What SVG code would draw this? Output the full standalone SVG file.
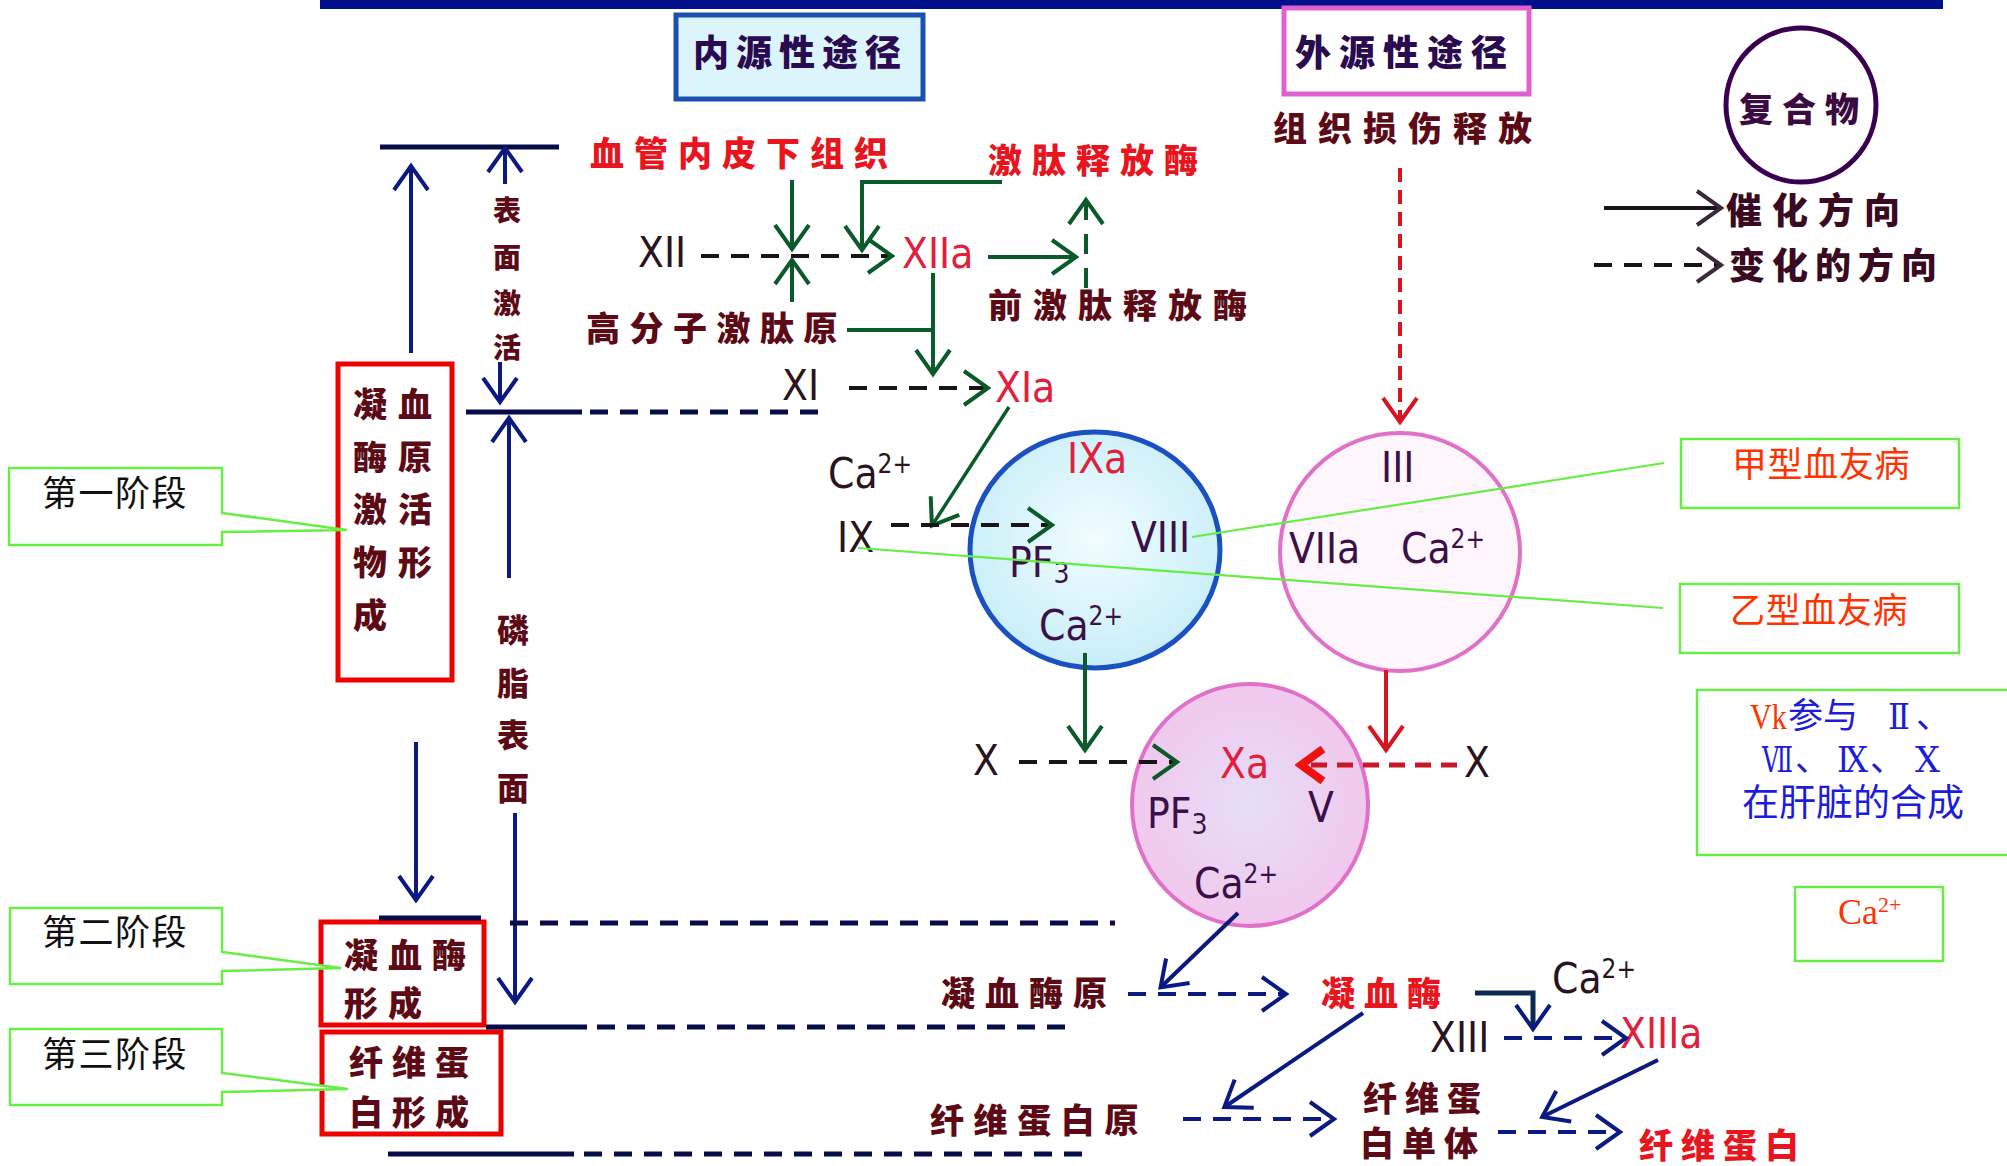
<svg xmlns="http://www.w3.org/2000/svg" width="2007" height="1166" viewBox="0 0 2007 1166">
<style>
.cj{font-family:"Noto Sans CJK SC",sans-serif;font-weight:900;font-size:34px}
.cr{font-family:"Noto Sans CJK SC",sans-serif;font-weight:400;font-size:35px}
.lat{font-family:"DejaVu Sans Condensed","Liberation Sans Narrow","DejaVu Sans",sans-serif;font-size:42px}
.rom{font-family:"Liberation Serif","DejaVu Serif","Noto Sans CJK SC",serif;font-size:36px}
.mar{fill:#5c0a16}
.red{fill:#e8141e}
.dk{fill:#2a1420}
.pur{fill:#3a1048}
.rl{fill:#e0203c}
.blk{fill:#111}
.org{fill:#ff3300}
.blu{fill:#1c1cdc}
.cb{fill:#fff;stroke:#66ee44;stroke-width:2.5}
.rb{fill:none;stroke:#ee0000;stroke-width:5}
.nv{fill:none;stroke:#0a1a80;stroke-width:4}
.nk{fill:none;stroke:#060c48;stroke-width:5}
.gr{fill:none;stroke:#0a5a2a;stroke-width:4}
.rd{fill:none;stroke:#d81420;stroke-width:4}
.kd{fill:none;stroke:#1a1418;stroke-width:4}
.d{stroke-dasharray:18 12}
.gl{fill:none;stroke:#66ee44;stroke-width:2.2}
</style>
<defs>
<marker id="aN" viewBox="-4 -22 32 44" refX="22" refY="0" markerWidth="32" markerHeight="44" markerUnits="userSpaceOnUse" orient="auto"><path d="M0,-17 L24,0 L0,17" fill="none" stroke="#0a1a80" stroke-width="4"/></marker>
<marker id="aG" viewBox="-4 -22 32 44" refX="22" refY="0" markerWidth="32" markerHeight="44" markerUnits="userSpaceOnUse" orient="auto"><path d="M0,-17 L24,0 L0,17" fill="none" stroke="#0a5a2a" stroke-width="4"/></marker>
<marker id="aR" viewBox="-4 -22 32 44" refX="22" refY="0" markerWidth="32" markerHeight="44" markerUnits="userSpaceOnUse" orient="auto"><path d="M0,-17 L24,0 L0,17" fill="none" stroke="#d81420" stroke-width="4"/></marker>
<marker id="aRb" viewBox="-4 -22 32 44" refX="20" refY="0" markerWidth="32" markerHeight="44" markerUnits="userSpaceOnUse" orient="auto"><path d="M0,-16 L22,0 L0,16" fill="none" stroke="#f01010" stroke-width="8"/></marker>
<marker id="aK" viewBox="-4 -22 32 44" refX="22" refY="0" markerWidth="32" markerHeight="44" markerUnits="userSpaceOnUse" orient="auto"><path d="M0,-17 L24,0 L0,17" fill="none" stroke="#3a2a3a" stroke-width="4"/></marker>
<radialGradient id="gB" cx="50%" cy="45%" r="55%"><stop offset="0" stop-color="#f2fdff"/><stop offset="1" stop-color="#c8eef8"/></radialGradient>
<radialGradient id="gP" cx="50%" cy="50%" r="55%"><stop offset="0" stop-color="#e6def8"/><stop offset="1" stop-color="#f2c6ec"/></radialGradient>
</defs>
<rect width="2007" height="1166" fill="#fff"/>
<rect x="320" y="0" width="1623" height="9" fill="#00108a"/>

<g id="intrinsic-title">
<rect x="676" y="15" width="247" height="84" fill="#dcf5fb" stroke="#1a50b0" stroke-width="5"/>
<text class="cj" x="693" y="66" style="font-size:36px;letter-spacing:7px;fill:#2a0a50">内源性途径</text>
</g>
<g id="extrinsic-title">
<rect x="1284" y="8" width="245" height="86" fill="#fff" stroke="#e060d0" stroke-width="5"/>
<text class="cj" x="1295" y="66" style="font-size:36px;letter-spacing:8px;fill:#2a0a50">外源性途径</text>
</g>
<g id="tissue-damage"><text class="cj mar" x="1273" y="141" style="letter-spacing:11px">组织损伤释放</text></g>
<g id="legend-complex">
<ellipse cx="1801" cy="105" rx="75" ry="77" fill="#fff" stroke="#3a0050" stroke-width="5"/>
<text class="cj" x="1739" y="122" style="letter-spacing:9px;fill:#3a0a40">复合物</text>
</g>
<g id="legend-catalysis"><text class="cj" x="1726" y="224" style="font-size:36px;letter-spacing:10px;fill:#3a0a20">催化方向</text></g>
<g id="legend-change"><text class="cj" x="1729" y="279" style="font-size:36px;letter-spacing:7px;fill:#3a0a20">变化的方向</text></g>

<g id="subendothelium"><text class="cj red" x="590" y="166" style="letter-spacing:10px">血管内皮下组织</text></g>
<g id="kallikrein"><text class="cj red" x="988" y="173" style="letter-spacing:10px">激肽释放酶</text></g>
<g id="prekallikrein"><text class="cj mar" x="988" y="318" style="letter-spacing:11px">前激肽释放酶</text></g>
<g id="hmwk"><text class="cj mar" x="586" y="341" style="letter-spacing:9.5px">高分子激肽原</text></g>

<g id="surface-activation" class="cj mar" style="font-size:28px" text-anchor="middle">
<text x="507" y="221">表</text><text x="507" y="268">面</text><text x="507" y="314">激</text><text x="507" y="358">活</text>
</g>
<g id="phospholipid-surface" class="cj mar" style="font-size:32px" text-anchor="middle">
<text x="513" y="642">磷</text><text x="513" y="695">脂</text><text x="513" y="747">表</text><text x="513" y="800">面</text>
</g>

<g id="stage1-box">
<rect class="rb" x="338" y="364" width="114" height="316"/>
<g class="cj mar" text-anchor="middle">
<text x="370" y="417">凝</text><text x="415" y="417">血</text>
<text x="370" y="470">酶</text><text x="415" y="470">原</text>
<text x="370" y="522">激</text><text x="415" y="522">活</text>
<text x="370" y="575">物</text><text x="415" y="575">形</text>
<text x="370" y="628">成</text>
</g>
</g>
<g id="stage2-box">
<rect class="rb" x="321" y="922" width="163" height="103"/>
<text class="cj mar" x="344" y="968" style="letter-spacing:10px">凝血酶</text>
<text class="cj mar" x="344" y="1016" style="letter-spacing:10px">形成</text>
</g>
<g id="stage3-box">
<rect class="rb" x="322" y="1032" width="179" height="102"/>
<text class="cj mar" x="349" y="1075" style="letter-spacing:9px">纤维蛋</text>
<text class="cj mar" x="349" y="1125" style="letter-spacing:9px">白形成</text>
</g>

<g id="callout-stage1">
<polygon class="cb" points="9,468 222,468 222,513 347,530 222,532 222,545 9,545"/>
<text class="cr blk" x="42" y="506" style="letter-spacing:1.5px">第一阶段</text>
</g>
<g id="callout-stage2">
<polygon class="cb" points="10,908 222,908 222,952 341,968 222,971 222,984 10,984"/>
<text class="cr blk" x="42" y="945" style="letter-spacing:1.5px">第二阶段</text>
</g>
<g id="callout-stage3">
<polygon class="cb" points="10,1029 222,1029 222,1073 348,1089 222,1092 222,1105 10,1105"/>
<text class="cr blk" x="42" y="1067" style="letter-spacing:1.5px">第三阶段</text>
</g>

<g id="XII"><text class="lat dk" x="638" y="267">XII</text></g>
<g id="XIIa"><text class="lat rl" x="902" y="268">XIIa</text></g>
<g id="XI"><text class="lat dk" x="782" y="400">XI</text></g>
<g id="XIa"><text class="lat rl" x="995" y="402">XIa</text></g>
<g id="Ca-IX"><text class="lat dk" x="828" y="488">Ca<tspan font-size="26" dy="-15">2+</tspan></text></g>
<g id="IX"><text class="lat dk" x="837" y="552">IX</text></g>

<g id="complex-IXa">
<ellipse cx="1095" cy="550" rx="125" ry="118" fill="url(#gB)" stroke="#1a50c0" stroke-width="5"/>
<text class="lat rl" x="1067" y="473">IXa</text>
<text class="lat pur" x="1131" y="552">VIII</text>
<text class="lat pur" x="1009" y="577">PF<tspan font-size="28" dy="6">3</tspan></text>
<text class="lat pur" x="1039" y="640">Ca<tspan font-size="26" dy="-15">2+</tspan></text>
</g>
<g id="complex-VIIa">
<ellipse cx="1400" cy="552" rx="120" ry="119" fill="#fff5fc" stroke="#e070c8" stroke-width="4"/>
<text class="lat pur" x="1381" y="482">III</text>
<text class="lat pur" x="1289" y="563">VIIa</text>
<text class="lat pur" x="1401" y="563">Ca<tspan font-size="26" dy="-15">2+</tspan></text>
</g>
<g id="X-left"><text class="lat dk" x="973" y="775">X</text></g>
<g id="X-right"><text class="lat dk" x="1464" y="777">X</text></g>
<g id="complex-Xa">
<ellipse cx="1250" cy="805" rx="118" ry="121" fill="url(#gP)" stroke="#e070c8" stroke-width="4"/>
<text class="lat rl" x="1220" y="778">Xa</text>
<text class="lat pur" x="1308" y="822">V</text>
<text class="lat pur" x="1147" y="828">PF<tspan font-size="28" dy="6">3</tspan></text>
<text class="lat pur" x="1194" y="898">Ca<tspan font-size="26" dy="-15">2+</tspan></text>
</g>

<g id="prothrombin"><text class="cj mar" x="941" y="1006" style="letter-spacing:10px">凝血酶原</text></g>
<g id="thrombin"><text class="cj red" x="1321" y="1006" style="letter-spacing:9px">凝血酶</text></g>
<g id="Ca-XIII"><text class="lat dk" x="1552" y="993">Ca<tspan font-size="26" dy="-15">2+</tspan></text></g>
<g id="XIII"><text class="lat dk" x="1430" y="1052">XIII</text></g>
<g id="XIIIa"><text class="lat rl" x="1620" y="1048">XIIIa</text></g>
<g id="fibrinogen"><text class="cj mar" x="930" y="1133" style="letter-spacing:9.6px">纤维蛋白原</text></g>
<g id="fibrin-monomer">
<text class="cj mar" x="1363" y="1111" style="letter-spacing:8px">纤维蛋</text>
<text class="cj mar" x="1360" y="1156" style="letter-spacing:8px">白单体</text>
</g>
<g id="fibrin"><text class="cj red" x="1639" y="1158" style="letter-spacing:8px">纤维蛋白</text></g>

<g id="callout-hemophilia-a">
<rect class="cb" x="1681" y="439" width="278" height="69"/>
<text class="cr org" x="1732" y="477" style="letter-spacing:0.6px">甲型血友病</text>
</g>
<g id="callout-hemophilia-b">
<rect class="cb" x="1680" y="584" width="279" height="69"/>
<text class="cr org" x="1730" y="623" style="letter-spacing:0.6px">乙型血友病</text>
</g>
<g id="callout-vk">
<rect class="cb" x="1697" y="690" width="330" height="165"/>
<text class="rom org" x="1750" y="729" textLength="37" lengthAdjust="spacingAndGlyphs">Vk</text>
<text class="cr blu" x="1788" y="728" style="font-size:35px">参与</text>
<text class="rom blu" x="1888" y="729" textLength="22" lengthAdjust="spacingAndGlyphs">Ⅱ</text>
<text class="cr blu" x="1916" y="728" style="font-size:35px">、</text>
<text class="rom blu" x="1762" y="772" textLength="31" lengthAdjust="spacingAndGlyphs">Ⅶ</text>
<text class="cr blu" x="1795" y="771" style="font-size:35px">、</text>
<text class="rom blu" x="1837" y="772" textLength="31" lengthAdjust="spacingAndGlyphs">Ⅸ</text>
<text class="cr blu" x="1870" y="771" style="font-size:35px">、</text>
<text class="rom blu" x="1915" y="772" textLength="25" lengthAdjust="spacingAndGlyphs">Ⅹ</text>
<text class="cr blu" x="1742" y="816" style="font-size:37px">在肝脏的合成</text>
</g>
<g id="callout-ca">
<rect class="cb" x="1795" y="887" width="148" height="74"/>
<text class="org" x="1838" y="924" font-family="'Liberation Serif',serif" font-size="36">Ca<tspan font-size="22" dy="-12">2+</tspan></text>
</g>

<g id="connectors">
<line class="kd" x1="1604" y1="208" x2="1719" y2="208" stroke="#3a2a3a" marker-end="url(#aK)"/>
<line class="kd d" x1="1594" y1="265" x2="1719" y2="265" stroke="#3a2a3a" marker-end="url(#aK)"/>
<line class="nk" x1="380" y1="147" x2="559" y2="147"/>
<line class="nv" x1="411" y1="353" x2="411" y2="168" marker-end="url(#aN)"/>
<line class="nv" x1="505" y1="184" x2="505" y2="150" marker-end="url(#aN)"/>
<line class="nv" x1="500" y1="362" x2="500" y2="400" marker-end="url(#aN)"/>
<line class="nk" x1="466" y1="412" x2="582" y2="412"/>
<line class="nk d" x1="590" y1="412" x2="818" y2="412"/>
<line class="nv" x1="509" y1="578" x2="509" y2="420" marker-end="url(#aN)"/>
<line class="nv" x1="416" y1="742" x2="416" y2="898" marker-end="url(#aN)"/>
<line class="nv" x1="515" y1="813" x2="515" y2="1000" marker-end="url(#aN)"/>
<line class="nk" x1="379" y1="918" x2="481" y2="918"/>
<line class="nk d" x1="510" y1="923" x2="1115" y2="923"/>
<line class="nk" x1="486" y1="1027" x2="587" y2="1027"/>
<line class="nk d" x1="597" y1="1027" x2="1071" y2="1027"/>
<line class="nk" x1="388" y1="1154" x2="574" y2="1154"/>
<line class="nk d" x1="584" y1="1154" x2="1087" y2="1154"/>
<line class="gr" x1="792" y1="180" x2="792" y2="247" marker-end="url(#aG)"/>
<line class="gr" x1="792" y1="302" x2="792" y2="262" marker-end="url(#aG)"/>
<path class="gr" d="M1002,182 H862 V248" marker-end="url(#aG)"/>
<line class="kd d" x1="701" y1="256" x2="890" y2="256" marker-end="url(#aG)"/>
<line class="gr" x1="988" y1="257" x2="1074" y2="257" marker-end="url(#aG)"/>
<line class="gr" x1="1086" y1="288" x2="1086" y2="202" style="stroke-dasharray:20 14" marker-end="url(#aG)"/>
<line class="gr" x1="933" y1="273" x2="933" y2="372" marker-end="url(#aG)"/>
<line class="gr" x1="847" y1="330" x2="933" y2="330"/>
<line class="kd d" x1="849" y1="388" x2="986" y2="388" marker-end="url(#aG)"/>
<line class="gr" x1="1009" y1="407" x2="933" y2="524" marker-end="url(#aG)" style="stroke-width:3.5"/>
<line class="kd d" x1="891" y1="525" x2="1050" y2="525" marker-end="url(#aG)"/>
<line class="gr" x1="1085" y1="653" x2="1085" y2="748" marker-end="url(#aG)"/>
<line class="kd d" x1="1019" y1="762" x2="1175" y2="762" marker-end="url(#aG)"/>
<line class="rd" x1="1400" y1="168" x2="1400" y2="420" style="stroke-dasharray:14 8" marker-end="url(#aR)"/>
<line class="rd" x1="1386" y1="670" x2="1386" y2="748" marker-end="url(#aR)"/>
<line class="rd" x1="1457" y1="765" x2="1303" y2="765" style="stroke-width:5;stroke-dasharray:16 10;stroke:#c81828" marker-end="url(#aRb)"/>
<line class="nv" x1="1238" y1="913" x2="1162" y2="986" marker-end="url(#aN)"/>
<line class="nv d" x1="1128" y1="994" x2="1284" y2="994" marker-end="url(#aN)"/>
<path class="nv" d="M1475,993 H1533 V1027" style="stroke:#0a2a50;stroke-width:5" marker-end="url(#aN)"/>
<line class="nv d" x1="1504" y1="1038" x2="1624" y2="1038" marker-end="url(#aN)"/>
<line class="nv" x1="1363" y1="1013" x2="1226" y2="1106" marker-end="url(#aN)"/>
<line class="nv d" x1="1183" y1="1119" x2="1332" y2="1119" marker-end="url(#aN)"/>
<line class="nv" x1="1658" y1="1060" x2="1544" y2="1116" marker-end="url(#aN)"/>
<line class="nv d" x1="1498" y1="1132" x2="1618" y2="1132" marker-end="url(#aN)"/>
<line class="gl" x1="1192" y1="537" x2="1664" y2="463"/>
<line class="gl" x1="858" y1="548" x2="1663" y2="608"/>
</g>
</svg>
